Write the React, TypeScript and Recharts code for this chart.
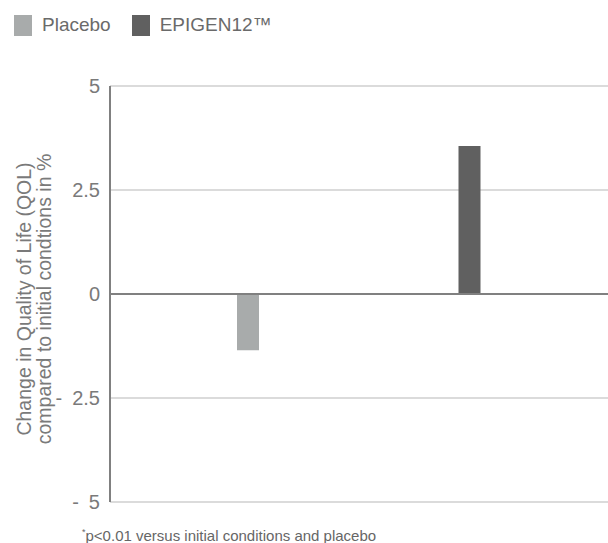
import { BarChart, Bar, XAxis, YAxis, CartesianGrid, ReferenceLine } from "recharts";

const categories = ["Placebo", "EPIGEN12™"];
const placeboValues = [-1.35, 0];
const epigenValues = [0, 3.56];
const yTicks = [-5, -2.5, 0, 2.5, 5];

const series = [
  { key: "placebo", name: "Placebo", color: "#a8abab" },
  { key: "epigen", name: "EPIGEN12™", color: "#606060" },
];

const data = categories.map((c, i) => ({
  name: c,
  placebo: placeboValues[i],
  epigen: epigenValues[i],
}));

const FONT = "'Liberation Sans', Arial, Helvetica, sans-serif";

// the original writes negatives as "- 2.5" with a wide gap
const formatTick = (v: number) => (v < 0 ? `-\u2002${Math.abs(v)}` : `${v}`);

const YLabel = () => (
  <g>
    <text
      transform="translate(31, 299) rotate(-90)"
      textAnchor="middle"
      fontSize={19.5}
      fill="#7a7a7a"
      fontFamily={FONT}
    >
      Change in Quality of Life (QOL)
    </text>
    <text
      transform="translate(51, 299) rotate(-90)"
      textAnchor="middle"
      fontSize={19.5}
      fill="#7a7a7a"
      fontFamily={FONT}
    >
      compared to initial condtions in %
    </text>
  </g>
);

const App = () => {
  return (
    <div style={{ position: "absolute", left: 0, top: 0, width: 608, height: 543, background: "#fff", fontFamily: FONT }}>
      <div style={{ position: "absolute", left: 14, top: 14, display: "flex", alignItems: "center", color: "#6a6a6a", fontSize: 19 }}>
        {series.map((s) => (
          <div key={s.key} style={{ display: "flex", alignItems: "center", marginRight: 21 }}>
            <div style={{ width: 18, height: 21, background: s.color, marginRight: 10 }} />
            <span>{s.name}</span>
          </div>
        ))}
      </div>
      <BarChart
        width={608}
        height={543}
        data={data}
        margin={{ top: 86, right: 0, bottom: 41, left: 0 }}
        stackOffset="sign"
      >
        <CartesianGrid horizontal vertical={false} stroke="#cfcfcf" strokeWidth={1.5} />
        <XAxis dataKey="name" hide padding={{ left: 27, right: 28 }} />
        <YAxis
          width={110}
          domain={[-5, 5]}
          ticks={yTicks}
          tickFormatter={formatTick}
          tickLine={false}
          axisLine={{ stroke: "#808080", strokeWidth: 2 }}
          tick={{ fill: "#7a7a7a", fontSize: 20, fontFamily: FONT }}
          tickMargin={4}
          label={{ content: () => <YLabel /> }}
        />
        {series.map((s) => (
          <Bar
            key={s.key}
            dataKey={s.key}
            name={s.name}
            stackId="a"
            fill={s.color}
            barSize={22}
            isAnimationActive={false}
          />
        ))}
        <ReferenceLine y={0} stroke="#808080" strokeWidth={2} />
      </BarChart>
      <div style={{ position: "absolute", left: 82, top: 527, fontSize: 15, color: "#666" }}>
        <sup style={{ fontSize: 9 }}>*</sup>p&lt;0.01 versus initial conditions and placebo
      </div>
    </div>
  );
};

export default App;
